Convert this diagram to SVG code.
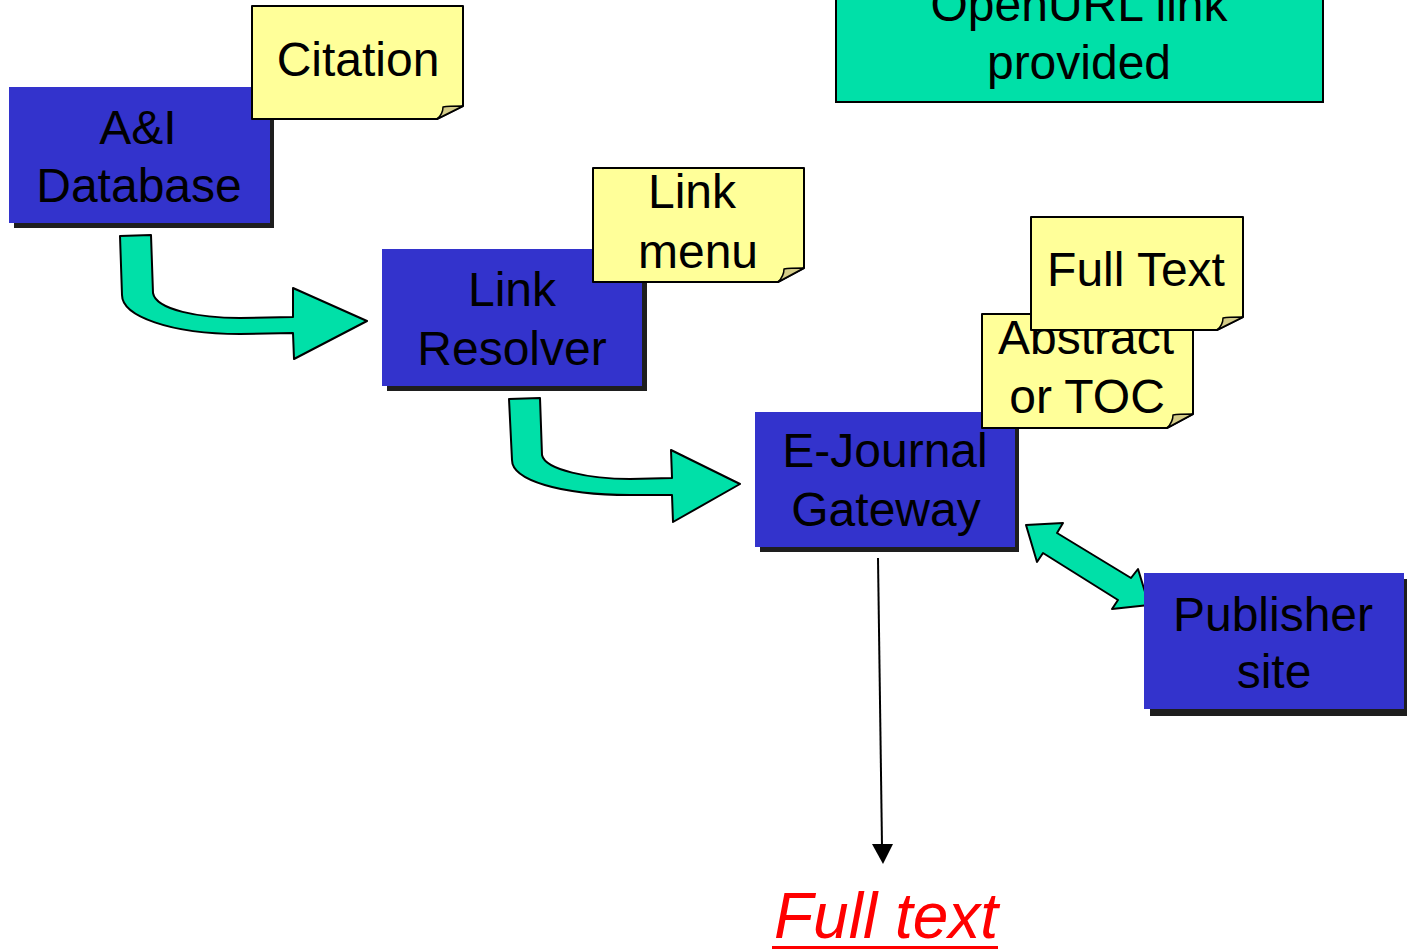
<svg xmlns="http://www.w3.org/2000/svg" width="1407" height="950" viewBox="0 0 1407 950">
<style>
.box{fill:#3333CC;}
.shadow{fill:#1E1E1E;}
.note{fill:#FFFF99;stroke:#000;stroke-width:2;stroke-linejoin:round;}
.fold{fill:#D4CC88;stroke:#000;stroke-width:1.5;stroke-linejoin:round;}
.t{font-family:"Liberation Sans",Arial,sans-serif;font-size:48px;fill:#000;text-anchor:middle;}
.flow{fill:#00E0A8;stroke:#000;stroke-width:2;stroke-linejoin:round;}
</style>
<rect width="1407" height="950" fill="#fff"/>

<g id="openurl">
<rect x="836" y="-40" width="487" height="142" fill="#00E0A8" stroke="#000" stroke-width="2"/>
<text class="t" x="1079" y="21">OpenURL link</text>
<text class="t" x="1079" y="79">provided</text>
</g>

<g id="connectors">
<path class="flow" d="M120,236 L151,235 L153,293 C156,310 200,318 240,318 L293,317 L293,288 L367,321 L294,359 L293,333 L240,334 C170,334 122,316 122,295 Z"/>
<path class="flow" d="M509,399 L540,398 L542,455 C545,470 590,479 630,479 L672,478 L671,450 L740,484 L673,522 L672,495 L630,495 C560,495 512,480 512,460 Z"/>
<path class="flow" d="M1026,525 L1063,523 L1057,533 L1131,578 L1138,569 L1149,605 L1112,609 L1118,600 L1043,553 L1037,562 Z"/>
<line x1="878" y1="558" x2="882" y2="846" stroke="#000" stroke-width="2"/>
<polygon points="872,844 893,844 883,864" fill="#000"/>
</g>

<g id="ai-database">
<rect class="shadow" x="14" y="92" width="260" height="136"/>
<rect class="box" x="9" y="87" width="261" height="136"/>
<text class="t" x="138" y="144">A&amp;I</text>
<text class="t" x="139" y="202">Database</text>
</g>

<g id="citation">
<path class="note" d="M252,6 H463 V106 L437,119 H252 Z"/>
<path class="fold" d="M463,106 Q448,106 443,107 Q443,114 437,119 Z"/>
<text class="t" x="358" y="76">Citation</text>
</g>

<g id="link-resolver">
<rect class="shadow" x="387" y="254" width="260" height="137"/>
<rect class="box" x="382" y="249" width="260" height="137"/>
<text class="t" x="512" y="306">Link</text>
<text class="t" x="512" y="365">Resolver</text>
</g>

<g id="link-menu">
<path class="note" d="M593,168 H804 V268 L778,282 H593 Z"/>
<path class="fold" d="M804,268 Q789,268 784,269 Q784,276 778,282 Z"/>
<text class="t" x="692" y="208">Link</text>
<text class="t" x="698" y="268">menu</text>
</g>

<g id="ejournal-gateway">
<rect class="shadow" x="760" y="417" width="259" height="135"/>
<rect class="box" x="755" y="412" width="260" height="135"/>
<text class="t" x="885" y="467">E-Journal</text>
<text class="t" x="886" y="526">Gateway</text>
</g>

<g id="abstract-toc">
<path class="note" d="M982,314 H1193 V414 L1167,428 H982 Z"/>
<path class="fold" d="M1193,414 Q1178,414 1173,415 Q1173,422 1167,428 Z"/>
<text class="t" x="1086" y="354">Abstract</text>
<text class="t" x="1087" y="413">or TOC</text>
</g>

<g id="full-text-note">
<path class="note" d="M1031,217 H1243 V317 L1217,330 H1031 Z"/>
<path class="fold" d="M1243,317 Q1228,317 1223,318 Q1223,325 1217,330 Z"/>
<text class="t" x="1136" y="286">Full Text</text>
</g>

<g id="publisher-site">
<rect class="shadow" x="1150" y="579" width="257" height="137"/>
<rect class="box" x="1144" y="573" width="260" height="136"/>
<text class="t" x="1273" y="631">Publisher</text>
<text class="t" x="1274" y="688">site</text>
</g>

<g id="full-text-result">
<text x="886" y="938" font-family="&quot;Liberation Sans&quot;,Arial,sans-serif" font-size="64" font-style="italic" fill="#FF0000" text-anchor="middle">Full text</text>
<line x1="772" y1="947.5" x2="998" y2="947.5" stroke="#FF0000" stroke-width="3"/>
</g>
</svg>
